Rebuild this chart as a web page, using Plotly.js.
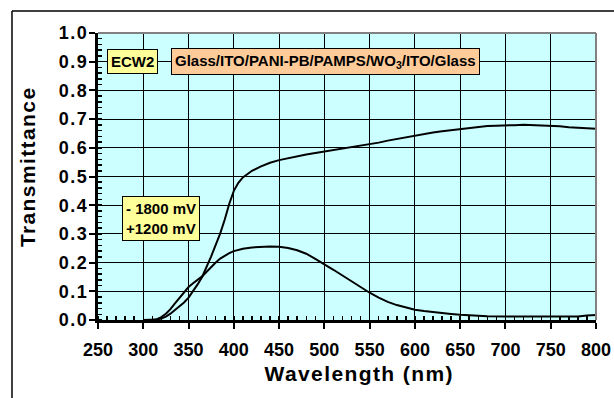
<!DOCTYPE html>
<html>
<head>
<meta charset="utf-8">
<script src="https://cdn.plot.ly/plotly-3.0.1.min.js"></script>
<style>
  html, body { margin: 0; padding: 0; background: #ffffff; }
  #chart { width: 614px; height: 398px; }
  .ytick text { letter-spacing: 1.5px; }
  .annotation[data-index="3"] text, .annotation[data-index="4"] text { letter-spacing: 1.4px; }
</style>
</head>
<body>
<div id="chart"></div>
<script>
// Wavelength grid (nm) for the high-transmittance curve
const wlHigh = [300, 310, 315, 320, 325, 330, 335, 340, 345, 350, 355, 360, 365, 370, 375, 380, 385, 390, 395, 400,
  405, 410, 415, 420, 430, 440, 450, 460, 470, 480, 490, 500, 510, 520, 530, 540, 550, 560, 570, 580, 590, 600,
  610, 620, 630, 640, 650, 660, 670, 680, 690, 700, 710, 720, 730, 740, 750, 760, 770, 780, 790, 800];
const transHigh = [0, 0, 0.002, 0.005, 0.012, 0.022, 0.035, 0.047, 0.061, 0.078, 0.1, 0.124, 0.15, 0.185, 0.222, 0.262, 0.302, 0.35, 0.405, 0.45,
  0.478, 0.497, 0.51, 0.52, 0.535, 0.548, 0.557, 0.564, 0.571, 0.577, 0.582, 0.587, 0.592, 0.597, 0.601, 0.606, 0.611, 0.618, 0.625, 0.631, 0.637, 0.643,
  0.648, 0.653, 0.658, 0.662, 0.666, 0.67, 0.673, 0.676, 0.677, 0.679, 0.679, 0.68, 0.679, 0.678, 0.678, 0.675, 0.672, 0.67, 0.668, 0.666];

// Wavelength grid (nm) for the low-transmittance curve
const wlLow = [300, 310, 315, 320, 325, 330, 335, 340, 345, 350, 355, 360, 365, 370, 375, 380, 385, 390, 395, 400,
  410, 420, 430, 440, 450, 460, 470, 480, 490, 500, 510, 520, 530, 540, 550, 560, 570, 580, 590, 600,
  610, 620, 630, 640, 650, 660, 670, 680, 700, 750, 780, 790, 800];
const transLow = [0, 0, 0.003, 0.01, 0.022, 0.038, 0.058, 0.078, 0.097, 0.115, 0.128, 0.14, 0.152, 0.168, 0.185, 0.2, 0.214, 0.225, 0.233, 0.24,
  0.248, 0.253, 0.255, 0.256, 0.255, 0.251, 0.243, 0.231, 0.213, 0.195, 0.175, 0.155, 0.135, 0.114, 0.095, 0.078, 0.063, 0.052, 0.043, 0.036,
  0.031, 0.027, 0.024, 0.021, 0.018, 0.016, 0.015, 0.013, 0.012, 0.012, 0.012, 0.016, 0.017];

const xTickVals = [250, 300, 350, 400, 450, 500, 550, 600, 650, 700, 750, 800];
const yTickVals = [0, 0.1, 0.2, 0.3, 0.4, 0.5, 0.6, 0.7, 0.8, 0.9, 1.0];
const yTickText = ["0.0", "0.1", "0.2", "0.3", "0.4", "0.5", "0.6", "0.7", "0.8", "0.9", "1.0"];

const xTitle = "Wavelength (nm)";
const yTitle = "Transmittance";
const deviceLabel = "ECW2";
const structureLabel = "Glass/ITO/PANI-PB/PAMPS/WO<sub>3</sub>/ITO/Glass";
const voltageLabels = ["- 1800 mV", "+1200 mV"];

const FONT = "Liberation Sans, Arial, sans-serif";

const traces = [
  { x: wlHigh, y: transHigh, type: "scatter", mode: "lines", name: voltageLabels[1],
    line: { color: "#000000", width: 2 }, hoverinfo: "skip" },
  { x: wlLow, y: transLow, type: "scatter", mode: "lines", name: voltageLabels[0],
    line: { color: "#000000", width: 2 }, hoverinfo: "skip" }
];

const layout = {
  width: 614, height: 398,
  margin: { l: 98, r: 18, t: 33, b: 78, pad: 0 },
  paper_bgcolor: "#ffffff",
  plot_bgcolor: "#ccffff",
  showlegend: false,
  font: { family: FONT, color: "#000000" },
  xaxis: {
    range: [250, 800], tickvals: xTickVals, ticktext: xTickVals.map(String),
    ticks: "outside", ticklen: 6, tickwidth: 2, tickcolor: "#000",
    showline: true, linecolor: "#000", linewidth: 3,
    showgrid: true, gridcolor: "#000", gridwidth: 1, zeroline: false,
    tickfont: { family: FONT, size: 18, color: "#000", weight: "bold" },
    ticklabelstandoff: 5,
    minor: { dtick: 10, tick0: 250, ticks: "inside", ticklen: 4, tickwidth: 1.5, tickcolor: "#000", showgrid: false },
    automargin: false
  },
  yaxis: {
    range: [0, 1.0], tickvals: yTickVals, ticktext: yTickText,
    ticks: "outside", ticklen: 6, tickwidth: 2, tickcolor: "#000",
    showline: true, linecolor: "#000", linewidth: 3,
    showgrid: true, gridcolor: "#000", gridwidth: 1, zeroline: false,
    tickfont: { family: FONT, size: 18, color: "#000", weight: "bold" },
    ticklabelstandoff: -3,
    minor: { dtick: 0.02, tick0: 0, ticks: "inside", ticklen: 4, tickwidth: 1.5, tickcolor: "#000", showgrid: false },
    automargin: false
  },
  shapes: [
    { type: "line", xref: "paper", yref: "paper", x0: 0, x1: 1, y0: 1, y1: 1, line: { color: "#808080", width: 2 } },
    { type: "line", xref: "paper", yref: "paper", x0: 1, x1: 1, y0: 0, y1: 1, line: { color: "#808080", width: 2 } },
    { type: "line", xref: "paper", yref: "paper", x0: -0.1727, x1: 1.2, y0: 1.0767, y1: 1.0767, line: { color: "#000", width: 1.5 } },
    { type: "line", xref: "paper", yref: "paper", x0: -0.1727, x1: -0.1727, y0: -0.5, y1: 1.0767, line: { color: "#000", width: 1.5 } }
  ],
  annotations: [
    { xref: "paper", yref: "paper", x: 0.0693, y: 0.902, xanchor: "center", yanchor: "middle", showarrow: false,
      text: "<b>" + deviceLabel + "</b>", font: { family: FONT, size: 15, color: "#000" },
      bgcolor: "#ffff99", bordercolor: "#000", borderwidth: 1, borderpad: 3 },
    { xref: "paper", yref: "paper", x: 0.4578, y: 0.9007, xanchor: "center", yanchor: "middle", showarrow: false,
      text: "<b>" + structureLabel + "</b>", font: { family: FONT, size: 15, color: "#000" },
      bgcolor: "#ffcc99", bordercolor: "#000", borderwidth: 1, borderpad: 3 },
    { xref: "paper", yref: "paper", x: 0.1265, y: 0.352, xanchor: "center", yanchor: "middle", showarrow: false, align: "left",
      text: "<b>" + voltageLabels[0] + "<br>" + voltageLabels[1] + "</b>", font: { family: FONT, size: 15, color: "#000" },
      bgcolor: "#ffff99", bordercolor: "#000", borderwidth: 1, borderpad: 3 },
    { xref: "paper", yref: "paper", x: 0.524, y: -0.1847, xanchor: "center", yanchor: "middle", showarrow: false,
      text: "<b>" + xTitle + "</b>", font: { family: FONT, size: 21, color: "#000" } },
    { xref: "paper", yref: "paper", x: -0.1426, y: 0.533, xanchor: "center", yanchor: "middle", showarrow: false, textangle: -90,
      text: "<b>" + yTitle + "</b>", font: { family: FONT, size: 21, color: "#000" } }
  ]
};

Plotly.newPlot("chart", traces, layout, { displayModeBar: false, staticPlot: true });
</script>
</body>
</html>
